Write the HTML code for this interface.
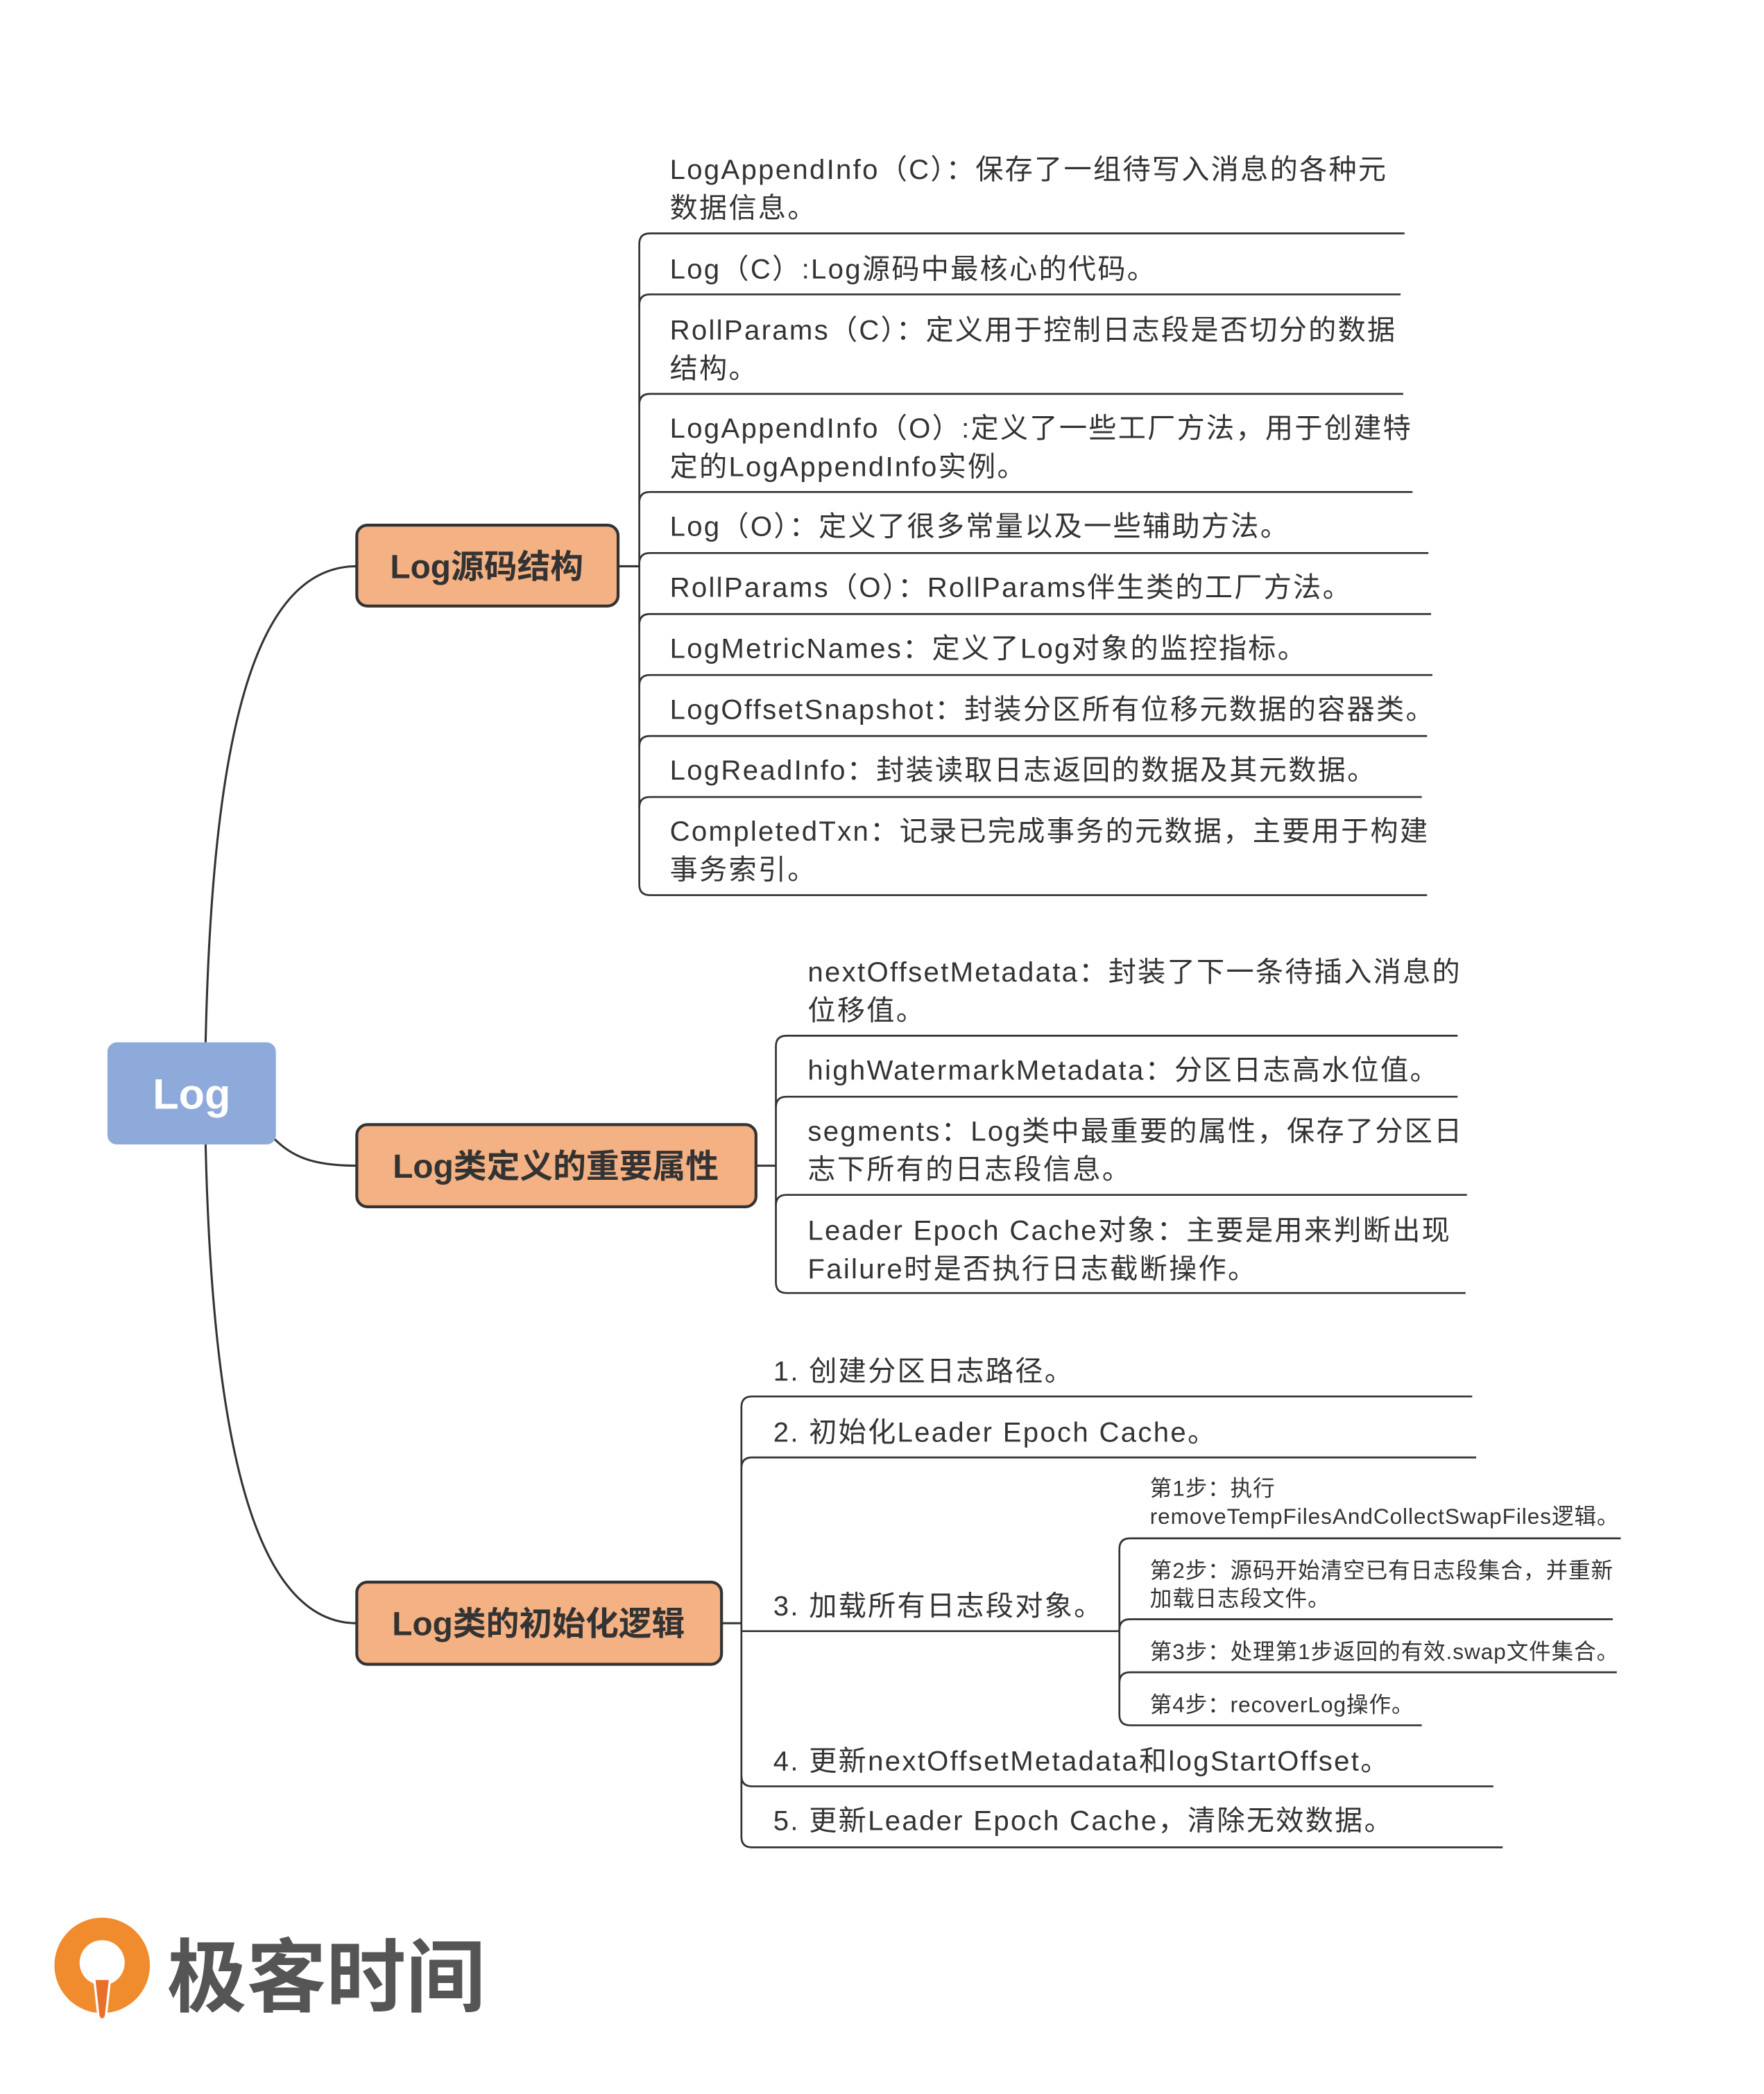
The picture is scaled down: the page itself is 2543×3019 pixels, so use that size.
<!DOCTYPE html>
<html><head><meta charset="utf-8">
<style>
html,body{margin:0;padding:0;background:#fff;}
svg{display:block;}
text{font-family:"Liberation Sans","Noto Sans CJK SC",sans-serif;fill:#333;}
</style></head>
<body>
<svg width="2543" height="3019" viewBox="0 0 1330 1579" xmlns="http://www.w3.org/2000/svg">
<rect width="1330" height="1579" fill="#fff"/>
<g fill="none" stroke="#333" stroke-width="1.6">
  <path d="M155,786 C160,560 190,427 269,427"/>
  <path d="M206,858 C220,872 235,879 269,879"/>
  <path d="M155,863 C160,1080 190,1224 269,1224"/>
  <path d="M466,427 H482"/>
  <path d="M570,879 H585"/>
  <path d="M544,1224 H559"/>
  <path d="M843,1230 H844"/>
</g>
<g fill="none" stroke="#333" stroke-width="1.4">
  <path d="M1059,176 H490 Q482,176 482,184 V667 Q482,675 490,675 H1076"/>
  <path d="M482,230 Q482,222 490,222 H1056"/>
  <path d="M482,305 Q482,297 490,297 H1058"/>
  <path d="M482,379 Q482,371 490,371 H1065"/>
  <path d="M482,425 Q482,417 490,417 H1077"/>
  <path d="M482,471 Q482,463 490,463 H1079"/>
  <path d="M482,517 Q482,509 490,509 H1080"/>
  <path d="M482,563 Q482,555 490,555 H1076"/>
  <path d="M482,609 Q482,601 490,601 H1072"/>
  <path d="M1099,781 H593 Q585,781 585,789 V967 Q585,975 593,975 H1105"/>
  <path d="M585,835 Q585,827 593,827 H1099"/>
  <path d="M585,909 Q585,901 593,901 H1106"/>
  <path d="M1110,1053 H567 Q559,1053 559,1061 V1385 Q559,1393 567,1393 H1133"/>
  <path d="M559,1107 Q559,1099 567,1099 H1113"/>
  <path d="M559,1230 H843"/>
  <path d="M559,1339 Q559,1347 567,1347 H1126"/>
  <path d="M1222,1160 H852 Q844,1160 844,1168 V1293 Q844,1301 852,1301 H1072"/>
  <path d="M844,1229 Q844,1221 852,1221 H1216"/>
  <path d="M844,1269 Q844,1261 852,1261 H1219"/>
</g>
<rect x="81" y="786" width="127" height="77" rx="7" fill="#8eaadb"/>
<text x="144.5" y="836" font-size="32" text-anchor="middle" style="fill:#fff" font-weight="bold">Log</text>
<rect x="269" y="396" width="197" height="61" rx="8" fill="#f4b183" stroke="#333" stroke-width="2.2"/>
<text x="367" y="436" font-size="25" font-weight="bold" text-anchor="middle">Log源码结构</text>
<rect x="269" y="848" width="301" height="62" rx="8" fill="#f4b183" stroke="#333" stroke-width="2.2"/>
<text x="419" y="888" font-size="25" font-weight="bold" text-anchor="middle">Log类定义的重要属性</text>
<rect x="269" y="1193" width="275" height="62" rx="8" fill="#f4b183" stroke="#333" stroke-width="2.2"/>
<text x="406" y="1233" font-size="25" font-weight="bold" text-anchor="middle">Log类的初始化逻辑</text>
<g font-size="21" letter-spacing="1.2">
<text x="505" y="135">LogAppendInfo（C）：保存了一组待写入消息的各种元</text>
<text x="505" y="164">数据信息。</text>
<text x="505" y="210">Log（C）:Log源码中最核心的代码。</text>
<text x="505" y="256">RollParams（C）：定义用于控制日志段是否切分的数据</text>
<text x="505" y="285">结构。</text>
<text x="505" y="330">LogAppendInfo（O）:定义了一些工厂方法，用于创建特</text>
<text x="505" y="359">定的LogAppendInfo实例。</text>
<text x="505" y="404">Log（O）：定义了很多常量以及一些辅助方法。</text>
<text x="505" y="450">RollParams（O）：RollParams伴生类的工厂方法。</text>
<text x="505" y="496">LogMetricNames：定义了Log对象的监控指标。</text>
<text x="505" y="542">LogOffsetSnapshot：封装分区所有位移元数据的容器类。</text>
<text x="505" y="588">LogReadInfo：封装读取日志返回的数据及其元数据。</text>
<text x="505" y="634">CompletedTxn：记录已完成事务的元数据，主要用于构建</text>
<text x="505" y="663">事务索引。</text>
<text x="609" y="740">nextOffsetMetadata：封装了下一条待插入消息的</text>
<text x="609" y="769">位移值。</text>
<text x="609" y="814">highWatermarkMetadata：分区日志高水位值。</text>
<text x="609" y="860">segments：Log类中最重要的属性，保存了分区日</text>
<text x="609" y="889">志下所有的日志段信息。</text>
<text x="609" y="935">Leader Epoch Cache对象：主要是用来判断出现</text>
<text x="609" y="964">Failure时是否执行日志截断操作。</text>
<text x="583" y="1041">1. 创建分区日志路径。</text>
<text x="583" y="1087">2. 初始化Leader Epoch Cache。</text>
<text x="583" y="1218">3. 加载所有日志段对象。</text>
<text x="583" y="1335">4. 更新nextOffsetMetadata和logStartOffset。</text>
<text x="583" y="1380">5. 更新Leader Epoch Cache，清除无效数据。</text>
</g>
<g font-size="16.5" letter-spacing="0.5">
<text x="867" y="1128">第1步：执行</text>
<text x="867" y="1149">removeTempFilesAndCollectSwapFiles逻辑。</text>
<text x="867" y="1190">第2步：源码开始清空已有日志段集合，并重新</text>
<text x="867" y="1211">加载日志段文件。</text>
<text x="867" y="1251">第3步：处理第1步返回的有效.swap文件集合。</text>
<text x="867" y="1291">第4步：recoverLog操作。</text>
</g>
<g>
  <circle cx="77" cy="1482" r="36" fill="#f08c2e"/>
  <circle cx="77" cy="1480" r="17" fill="#fff"/>
  <path d="M70,1490 L84,1490 L80,1527 L74,1527 Z" fill="#fff"/>
  <path d="M72,1493 L82,1493 L79,1520 Q77,1524 75,1520 Z" fill="#e8702a"/>
</g>
<text x="126" y="1512" font-size="60" font-weight="bold" style="fill:#555" font-family="'Noto Sans CJK SC',sans-serif">极客时间</text>
</svg>
</body></html>
